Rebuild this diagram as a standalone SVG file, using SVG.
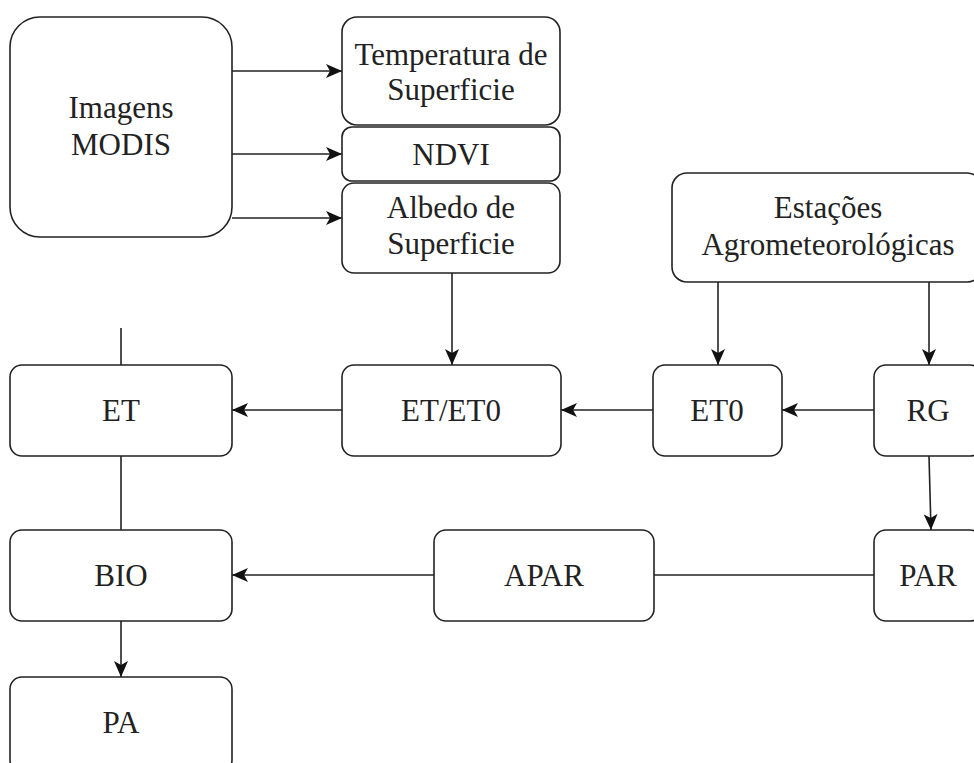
<svg xmlns="http://www.w3.org/2000/svg" width="974" height="763" viewBox="0 0 974 763">
<style>
.box{fill:#fff;stroke:#222;stroke-width:1.6}
.lbl{font-family:'Liberation Serif','DejaVu Serif',serif;font-size:31px;fill:#222;text-anchor:middle}
.edge{fill:none;stroke:#222;stroke-width:1.6}
</style>
<defs>
<marker id="arr" markerUnits="userSpaceOnUse" markerWidth="17" markerHeight="14" refX="16" refY="7" orient="auto">
<path d="M0,0 L16,7 L0,14 L4,7 Z" fill="#111"/>
</marker>
</defs>
<rect width="974" height="763" fill="#fff"/>
<g id="connectors">
<path class="edge" d="M232,71 H342" marker-end="url(#arr)"/>
<path class="edge" d="M232,154 H342" marker-end="url(#arr)"/>
<path class="edge" d="M232,218 H342" marker-end="url(#arr)"/>
<path class="edge" d="M452,273 V365" marker-end="url(#arr)"/>
<path class="edge" d="M718,282 V365" marker-end="url(#arr)"/>
<path class="edge" d="M929,282 V365" marker-end="url(#arr)"/>
<path class="edge" d="M874,410 H782" marker-end="url(#arr)"/>
<path class="edge" d="M653,410 H561" marker-end="url(#arr)"/>
<path class="edge" d="M342,410 H232" marker-end="url(#arr)"/>
<path class="edge" d="M121,328 V365"/>
<path class="edge" d="M121,456 V530"/>
<path class="edge" d="M929,456 L931,530" marker-end="url(#arr)"/>
<path class="edge" d="M874,575 H654"/>
<path class="edge" d="M434,575 H232" marker-end="url(#arr)"/>
<path class="edge" d="M121,621 V677" marker-end="url(#arr)"/>
</g>
<g id="modis"><rect class="box" x="10" y="17" width="222" height="220" rx="30"/><text class="lbl" x="121" y="118">Imagens</text><text class="lbl" x="121" y="155">MODIS</text></g>
<g id="temp"><rect class="box" x="342" y="17" width="218" height="108" rx="15"/><text class="lbl" x="451" y="65">Temperatura de</text><text class="lbl" x="451" y="100">Superficie</text></g>
<g id="ndvi"><rect class="box" x="342" y="127" width="218" height="54" rx="10"/><text class="lbl" x="451" y="165">NDVI</text></g>
<g id="albedo"><rect class="box" x="342" y="183" width="218" height="90" rx="12"/><text class="lbl" x="451" y="218">Albedo de</text><text class="lbl" x="451" y="254">Superficie</text></g>
<g id="estacoes"><rect class="box" x="672" y="173" width="310" height="109" rx="15"/><text class="lbl" x="828" y="218">Estações</text><text class="lbl" x="828" y="255">Agrometeorológicas</text></g>
<g id="et"><rect class="box" x="10" y="365" width="222" height="91" rx="12"/><text class="lbl" x="121" y="421">ET</text></g>
<g id="eteto"><rect class="box" x="342" y="365" width="219" height="91" rx="12"/><text class="lbl" x="451" y="421">ET/ET0</text></g>
<g id="eto"><rect class="box" x="653" y="365" width="129" height="91" rx="12"/><text class="lbl" x="717" y="421">ET0</text></g>
<g id="rg"><rect class="box" x="874" y="365" width="108" height="91" rx="12"/><text class="lbl" x="928" y="421">RG</text></g>
<g id="bio"><rect class="box" x="10" y="530" width="222" height="91" rx="12"/><text class="lbl" x="121" y="586">BIO</text></g>
<g id="apar"><rect class="box" x="434" y="530" width="220" height="91" rx="12"/><text class="lbl" x="544" y="586">APAR</text></g>
<g id="par"><rect class="box" x="874" y="530" width="108" height="91" rx="12"/><text class="lbl" x="928" y="586">PAR</text></g>
<g id="pa"><rect class="box" x="10" y="677" width="222" height="95" rx="12"/><text class="lbl" x="121" y="733">PA</text></g>
</svg>
